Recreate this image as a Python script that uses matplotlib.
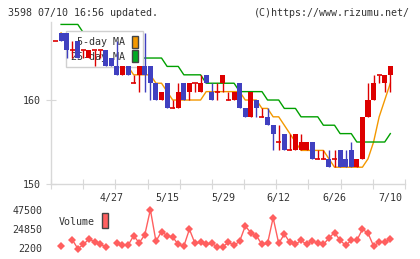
import numpy as np
import matplotlib
matplotlib.use("Agg")
import matplotlib.pyplot as plt
from matplotlib.patches import Patch, Rectangle
from matplotlib.transforms import blended_transform_factory

# === DATA (61 trading days 4/13 .. 7/10) ===
opens = [167, 168, 168, 166, 167, 166, 165, 166, 166, 166,
         165, 164, 163, 164, 162, 163, 164, 164, 162, 160,
         162, 159, 159, 162, 161, 162, 161, 163, 161, 161,
         162, 160, 160, 162, 159, 158, 160, 158, 158, 157,
         155, 156, 154, 154, 154, 154, 155, 153, 153, 153,
         153, 154, 153, 154, 152, 153, 158, 160, 163, 162,
         163]
highs = [167, 168, 168, 167, 167, 166, 166, 166, 166, 166,
         165, 167, 164, 164, 163, 164, 168, 164, 162, 161,
         162, 160, 162, 162, 162, 162, 163, 163, 162, 162,
         163, 161, 161, 162, 159, 161, 160, 159, 159, 157,
         157, 156, 156, 156, 156, 155, 155, 154, 154, 154,
         154, 154, 154, 155, 153, 158, 162, 163, 163, 163,
         164]
lows = [167, 167, 165, 165, 165, 165, 165, 164, 165, 164,
        164, 163, 163, 163, 162, 161, 161, 160, 160, 160,
        159, 159, 159, 160, 160, 161, 161, 162, 160, 160,
        161, 160, 160, 159, 158, 158, 158, 158, 157, 154,
        154, 154, 154, 154, 154, 154, 153, 153, 153, 152,
        152, 152, 152, 152, 152, 153, 158, 160, 162, 161,
        161]
closes = [167, 167, 166, 166, 165, 166, 166, 166, 166, 164,
          164, 163, 164, 163, 162, 164, 163, 162, 160, 161,
          159, 159, 161, 160, 162, 162, 162, 162, 160, 161,
          163, 160, 161, 159, 158, 161, 159, 158, 157, 156,
          155, 154, 154, 156, 155, 155, 153, 153, 153, 152,
          153, 152, 152, 152, 153, 158, 160, 162, 163, 163,
          164]

ma5 = [np.nan, 168, 167, 167, 166, 166, 166, 166, 166, 166,
       165, 165, 164, 164, 163, 163, 163, 163, 162, 162,
       161, 160, 160, 160, 160, 160, 160, 161, 161, 161,
       161, 161, 161, 161, 160, 160, 160, 159, 159, 158,
       158, 157, 156, 155, 154, 154, 154, 154, 154, 153,
       152, 152, 152, 152, 152, 152, 153, 155, 158, 160,
       162]
ma25 = [np.nan, 169, 169, 169, 169, 168, 168, 168, 167, 167,
        167, 166, 166, 166, 166, 165, 165, 165, 165, 165,
        164, 164, 164, 163, 163, 163, 163, 162, 162, 162,
        162, 162, 162, 161, 161, 161, 161, 161, 160, 160,
        160, 159, 159, 159, 158, 158, 158, 158, 157, 157,
        157, 156, 156, 156, 155, 155, 155, 155, 155, 155,
        156]

volume = [np.nan, 4500, np.nan, 12200, 1400, 6400, 13000, 9500, 6400, 3700,
          np.nan, 8300, 5300, 5300, 16800, 8300, 17900, 47900, 10300, 21800,
          16800, 15300, 6400, 4500, 24500, 7600, 9100, 6400, 7600, 3700,
          3700, 9100, 5300, 10300, 28300, 20600, 16800, 6400, 7600, 38300,
          7600, 18700, 9100, 6400, 11400, 6400, 11000, 7600, 6400, 14100,
          20600, 11400, 5300, 11400, 11400, 24500, 19900, 4500, 9100, 9100,
          13000]

date_idx = [10, 20, 30, 40, 50, 60]
date_labels = ["4/27", "5/15", "5/29", "6/12", "6/26", "7/10"]
vol_ticks = [2200, 24850, 47500]

# === STYLE ===
RED = "#dd0000"
BLUE = "#4040c0"
ORANGE = "#f39800"
GREEN = "#00a000"
AXIS = "#d8d8d8"
TXT = "#333333"

plt.rcParams["font.family"] = ["DejaVu Sans Mono"]
plt.rcParams["font.size"] = 7.2

W, H = 420, 259
fig = plt.figure(figsize=(W / 100, H / 100), dpi=100)
ax = fig.add_axes([51 / W, (H - 184) / H, 354 / W, 162 / H])
ax2 = fig.add_axes([51 / W, (H - 253) / H, 354 / W, 50 / H])

x = np.arange(len(closes))
o = np.array(opens, float)
c = np.array(closes, float)
hi = np.array(highs, float)
lo = np.array(lows, float)

# === CANDLES ===
up = c > o
dn = c < o
dj = c == o
ax.vlines(x[up | dj], lo[up | dj], hi[up | dj], color=RED, lw=1.0, zorder=3)
ax.vlines(x[dn], lo[dn], hi[dn], color=BLUE, lw=1.0, zorder=3)
ax.bar(x[up], (c - o)[up], bottom=o[up], width=0.9, color=RED, lw=0, zorder=3)
ax.bar(x[dn], (o - c)[dn], bottom=c[dn], width=0.9, color=BLUE, lw=0, zorder=3)
ax.hlines(c[dj], x[dj] - 0.45, x[dj] + 0.45, color=RED, lw=1.2, zorder=3)

# === MOVING AVERAGES ===
ax.plot(x, ma5, color=ORANGE, lw=1.0, zorder=2)
ax.plot(x, ma25, color=GREEN, lw=1.0, zorder=2)

ax.set_xlim(-0.806, 62.63)
ax.set_ylim(150, 169.29)
ax.set_xticks(np.linspace(-0.806, 62.63, 12))
ax.set_xticklabels([])
ax.set_yticks([150, 160])
ax.set_yticklabels(["150", "160"], color=TXT)
ax.tick_params(axis="both", direction="inout", length=6.5, width=0.8, color=AXIS)
ax.tick_params(axis="y", pad=4)
for s in ["top", "right"]:
    ax.spines[s].set_visible(False)
for s in ["left", "bottom"]:
    ax.spines[s].set_color(AXIS)
    ax.spines[s].set_linewidth(1.0)

trans = blended_transform_factory(ax.transData, fig.transFigure)
for i, lab in zip(date_idx, date_labels):
    ax.text(i, (H - 198) / H, lab, transform=trans, ha="center", va="center",
            color=TXT, clip_on=False)

handles = [Patch(facecolor=ORANGE, edgecolor="#444444", lw=1.0),
           Patch(facecolor="#00aa22", edgecolor="#444444", lw=1.0)]
leg = ax.legend(handles, [" 5-day MA", "25-day MA"], loc="upper left",
                bbox_to_anchor=(0.042, 0.944), borderaxespad=0, markerfirst=False,
                handlelength=0.6, handleheight=1.5, labelspacing=0.2,
                handletextpad=0.7, borderpad=0.5, fancybox=False, framealpha=1,
                edgecolor="#d0d0d0", labelcolor=TXT)
leg.get_frame().set_linewidth(1.0)
leg.set_zorder(2.5)

# === VOLUME ===
ax2.plot(x, volume, color="#ff5f5f", lw=1.0, marker="D", ms=4.2, mew=0)
ax2.set_xlim(-0.806, 62.63)
ax2.set_ylim(-3760, 55845)
ax2.set_yticks(vol_ticks)
ax2.set_yticklabels([str(v) for v in vol_ticks], color=TXT)
ax2.set_xticks([])
ax2.tick_params(axis="y", length=0, pad=6)
for s in ax2.spines.values():
    s.set_visible(False)
ax2.patch.set_alpha(0)

fig.text(59 / W, (H - 222) / H, "Volume", ha="left", va="center", color=TXT)
fig.add_artist(Rectangle((102 / W, (H - 228) / H), 6 / W, 15 / H,
                         transform=fig.transFigure, facecolor="#ff6060",
                         edgecolor="#444444", lw=1.0))

fig.text(8 / W, (H - 13) / H, "3598 07/10 16:56 updated.", ha="left", va="center", color=TXT)
fig.text(410 / W, (H - 13) / H, "(C)https://www.rizumu.net/", ha="right", va="center", color=TXT)

fig.savefig("out.png", dpi=100)
